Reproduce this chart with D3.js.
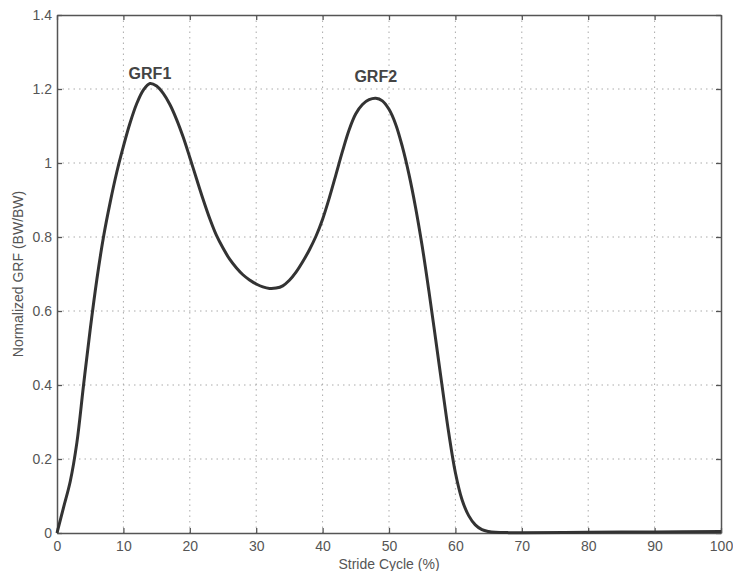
<!DOCTYPE html>
<html>
<head>
<meta charset="utf-8">
<script src="https://cdn.jsdelivr.net/npm/d3@7"></script>
<style>
  body { margin: 0; background: #fff; }
  svg text { font-family: "Liberation Sans", Arial, sans-serif; fill: #555; }
</style>
</head>
<body>
<div id="chart"></div>
<script>
// stride cycle (%) and normalized GRF
var strideX = [0, 1, 2, 3, 4, 5, 6, 7, 8, 9, 10, 11, 12, 13, 14, 15, 16, 17, 18, 19, 20,
  21, 22, 23, 24, 25, 26, 27, 28, 29, 30, 31, 32, 33, 34, 35, 36, 37, 38, 39, 40, 41, 42, 43,
  44, 45, 46, 47, 48, 49, 50, 51, 52, 53, 54, 55, 56, 57, 58, 59, 60, 61, 62, 63, 64, 65, 66,
  68, 70, 80, 90, 100];
var grfY = [0, 0.07, 0.14, 0.245, 0.4, 0.55, 0.685, 0.8, 0.893, 0.975, 1.045, 1.108, 1.16, 1.197,
  1.215, 1.208, 1.188, 1.158, 1.118, 1.07, 1.015, 0.958, 0.902, 0.85, 0.805, 0.77, 0.74, 0.717,
  0.698, 0.684, 0.673, 0.665, 0.661, 0.662, 0.668, 0.683, 0.705, 0.733, 0.765, 0.802, 0.848,
  0.905, 0.968, 1.032, 1.09, 1.133, 1.158, 1.171, 1.175, 1.168, 1.145, 1.105, 1.045, 0.97,
  0.88, 0.775, 0.655, 0.527, 0.397, 0.27, 0.163, 0.09, 0.047, 0.022, 0.009, 0.004, 0.002,
  0.001, 0.001, 0.002, 0.003, 0.004];
var xTicks = [0, 10, 20, 30, 40, 50, 60, 70, 80, 90, 100];
var yTicks = [0, 0.2, 0.4, 0.6, 0.8, 1, 1.2, 1.4];
var peakNames = ["GRF1", "GRF2"];
var peakX = [14, 48];
var peakLabelY = [1.228, 1.22];

var width = 733, height = 571;
// plot box edges (note: "top" is reserved on window, so prefix them)
var pLeft = 57, pRight = 721, pTop = 15, pBottom = 533;

var svg = d3.select("#chart").append("svg")
  .attr("width", width)
  .attr("height", height);

var x = d3.scaleLinear().domain([0, 100]).range([pLeft, pRight]);
var y = d3.scaleLinear().domain([0, 1.4]).range([pBottom, pTop]);

// dotted grid
svg.append("g").selectAll("line")
  .data(xTicks.slice(1, -1))
  .join("line")
  .attr("x1", d => x(d)).attr("x2", d => x(d))
  .attr("y1", pTop).attr("y2", pBottom)
  .attr("stroke", "#aaa").attr("stroke-width", 1)
  .attr("stroke-dasharray", "1.5,4");

svg.append("g").selectAll("line")
  .data(yTicks.slice(1, -1))
  .join("line")
  .attr("y1", d => y(d)).attr("y2", d => y(d))
  .attr("x1", pLeft).attr("x2", pRight)
  .attr("stroke", "#aaa").attr("stroke-width", 1)
  .attr("stroke-dasharray", "1.5,4");

// axes (ticks inward, MATLAB style)
var xAxis = svg.append("g")
  .attr("transform", "translate(0," + pBottom + ")")
  .call(d3.axisBottom(x).tickValues(xTicks).tickSizeInner(-5).tickSizeOuter(0).tickPadding(8));

var yAxis = svg.append("g")
  .attr("transform", "translate(" + pLeft + ",0)")
  .call(d3.axisLeft(y).tickValues(yTicks).tickFormat(d3.format("")).tickSizeInner(-5).tickSizeOuter(0).tickPadding(5));

var xTop = svg.append("g")
  .attr("transform", "translate(0," + pTop + ")")
  .call(d3.axisTop(x).tickValues(xTicks).tickSizeInner(-5).tickSizeOuter(0).tickFormat(""));

var yRight = svg.append("g")
  .attr("transform", "translate(" + pRight + ",0)")
  .call(d3.axisRight(y).tickValues(yTicks).tickSizeInner(-5).tickSizeOuter(0).tickFormat(""));

[xAxis, yAxis, xTop, yRight].forEach(function (g) {
  g.select(".domain").attr("stroke", "#555").attr("stroke-width", 1.5);
  g.selectAll(".tick line").attr("stroke", "#555").attr("stroke-width", 1.3);
  g.selectAll("text").attr("font-size", 14).style("fill", "#555");
});

// curve
var line = d3.line()
  .x((d, i) => x(strideX[i]))
  .y(d => y(d))
  .curve(d3.curveCatmullRom.alpha(0.5));

svg.append("path")
  .datum(grfY)
  .attr("d", line)
  .attr("fill", "none")
  .attr("stroke", "#333")
  .attr("stroke-width", 3)
  .attr("stroke-linejoin", "round");

// peak labels
svg.append("g").selectAll("text")
  .data(peakNames)
  .join("text")
  .attr("x", (d, i) => x(peakX[i]))
  .attr("y", (d, i) => y(peakLabelY[i]))
  .attr("text-anchor", "middle")
  .attr("font-size", 16)
  .attr("font-weight", "bold")
  .style("fill", "#444")
  .text(d => d);

// axis titles
svg.append("text")
  .attr("x", (pLeft + pRight) / 2)
  .attr("y", 569)
  .attr("text-anchor", "middle")
  .attr("font-size", 14)
  .text("Stride Cycle (%)");

svg.append("text")
  .attr("transform", "translate(23,274) rotate(-90)")
  .attr("text-anchor", "middle")
  .attr("font-size", 14)
  .text("Normalized GRF (BW/BW)");
</script>
</body>
</html>
